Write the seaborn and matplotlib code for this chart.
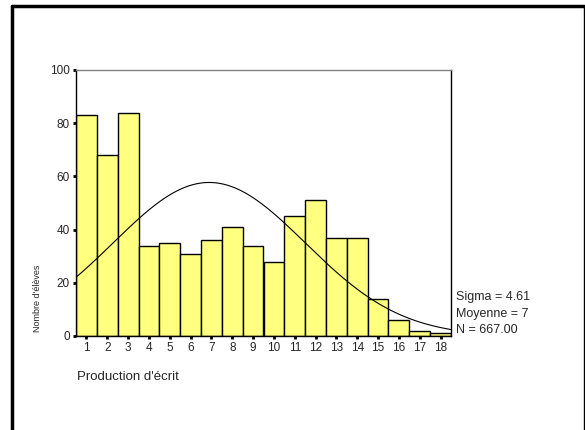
import matplotlib
matplotlib.use('Agg')
import matplotlib.pyplot as plt
from matplotlib.lines import Line2D
import numpy as np
import seaborn as sns

# Data
notes = list(range(1, 19))
effectifs = [83, 68, 84, 34, 35, 31, 36, 41, 34, 28, 45, 51, 37, 37, 14, 6, 2, 1]
sigma = 4.61
stats_labels = ['Sigma = 4.61', 'Moyenne = 7', 'N = 667.00']

sns.set_style('white')
plt.rcParams['font.family'] = ['Liberation Sans', 'DejaVu Sans']

fig = plt.figure(figsize=(5.85, 4.3), dpi=100)
ax = fig.add_axes([76 / 585, 1 - 336 / 430, 375 / 585, 266 / 430])

sns.histplot(x=notes, weights=effectifs, discrete=True, ax=ax,
             color='#FFFF80', edgecolor='black', linewidth=1, alpha=1)

# normal curve fitted to the data
n = sum(effectifs)
moy = np.average(notes, weights=effectifs)
xs = np.linspace(0.5, 18.5, 200)
ys = n / (sigma * np.sqrt(2 * np.pi)) * np.exp(-0.5 * ((xs - moy) / sigma) ** 2)
ax.plot(xs, ys, color='black', linewidth=0.8)

ax.set_xlim(0.5, 18.5)
ax.set_ylim(0, 100)
ax.set_xticks(notes)
ax.set_yticks(range(0, 101, 20))
ax.tick_params(axis='both', labelsize=8.5, length=2.5, width=2, color='black',
               direction='out', bottom=True, left=True)
ax.tick_params(axis='y', pad=2)
ax.tick_params(axis='x', pad=1.5)
ax.set_xlabel('')
ax.set_ylabel('')

for s in ['left', 'right', 'bottom']:
    ax.spines[s].set_color('black')
    ax.spines[s].set_linewidth(1)
ax.spines['top'].set_color('#808080')
ax.spines['top'].set_linewidth(1)

fig.text(77 / 585, 1 - 377 / 430, "Production d'écrit", fontsize=9.5, va='center', ha='left')
fig.text(37 / 585, 1 - 298 / 430, "Nombre d'élèves", fontsize=6.5, rotation=90,
         va='center', ha='center')
for i, lab in enumerate(stats_labels):
    fig.text(456 / 585, 1 - (297 + 16.5 * i) / 430, lab, fontsize=9, va='center', ha='left')

# outer frame: thick left and top, thin right
fx0, fx1, fy1 = 12 / 585, 583.5 / 585, 1 - 6 / 430
fig.lines.append(Line2D([fx0, fx0], [0, fy1], transform=fig.transFigure, color='black', linewidth=2.5))
fig.lines.append(Line2D([fx0, fx1], [fy1, fy1], transform=fig.transFigure, color='black', linewidth=2.5))
fig.lines.append(Line2D([fx1, fx1], [0, fy1], transform=fig.transFigure, color='black', linewidth=1))

fig.savefig('out.png', dpi=100)
